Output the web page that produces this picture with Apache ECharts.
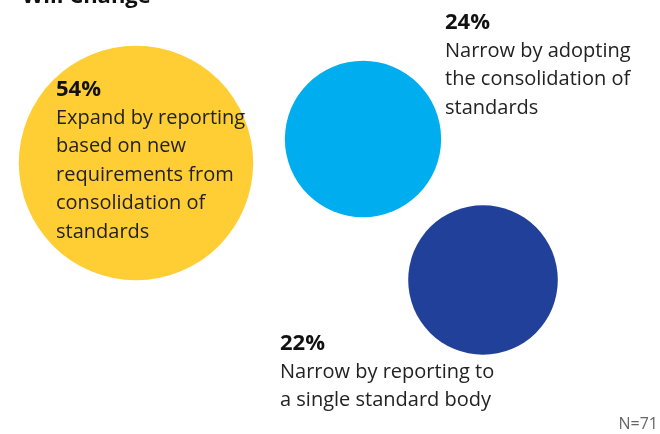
<!DOCTYPE html>
<html><head><meta charset="utf-8">
<script src="https://cdn.jsdelivr.net/npm/echarts@6/dist/echarts.min.js"></script>
<style>html,body{margin:0;padding:0;background:#fff}#c{width:660px;height:434px}</style>
</head><body><div id="c"></div>
<script>
// ---- data ----
var categories = [
  'Expand by reporting\nbased on new\nrequirements from\nconsolidation of\nstandards',
  'Narrow by adopting\nthe consolidation of\nstandards',
  'Narrow by reporting to\na single standard body'
];
var shares = [54, 24, 22];
var sampleNote = 'N=71';
var titleText = 'Will Change';

// ---- layout (pixel-like units on hidden axes) ----
var bubbleX = [136, 363, 483];
var bubbleY = [163, 139, 280];
var labelAnchor = [[56, 75], [445, 8], [280, 329]];
var colors = ['#FFCE34', '#00AEEF', '#21409A'];
var K = 31.9;
var FONT = '"Open Sans", "Noto Sans", sans-serif';

var chart = echarts.init(document.getElementById('c'), null, {renderer: 'canvas'});
var data = shares.map(function (v, i) {
  var d = Math.sqrt(v) * K;
  var r = d / 2;
  return {
    value: [bubbleX[i], bubbleY[i], v],
    name: categories[i],
    symbolSize: d,
    itemStyle: {color: colors[i], opacity: 1},
    label: {
      show: true,
      position: [labelAnchor[i][0] - (bubbleX[i] - r), labelAnchor[i][1] - (bubbleY[i] - r)],
      align: 'left',
      verticalAlign: 'top',
      formatter: '{p|' + v + '%}\n{t|' + categories[i].split('\n').join('}\n{t|') + '}',
      rich: {
        p: {fontFamily: FONT, fontWeight: 'bold', fontSize: 22, lineHeight: 29, color: '#111'},
        t: {fontFamily: FONT, fontSize: 20, lineHeight: 28.5, color: '#222'}
      }
    }
  };
});

chart.setOption({
  animation: false,
  backgroundColor: '#fff',
  grid: {left: 0, top: 0, width: 660, height: 434},
  xAxis: {type: 'value', min: 0, max: 660, show: false},
  yAxis: {type: 'value', min: 0, max: 434, inverse: true, show: false},
  graphic: [
    {type: 'text', left: 22, top: -14, style: {text: titleText, font: 'bold 22px ' + FONT, fill: '#111'}},
    {type: 'text', right: 2, bottom: 2, style: {text: sampleNote, font: '16px ' + FONT, fill: '#666'}}
  ],
  series: [{
    type: 'scatter',
    data: data,
    symbol: 'circle',
    emphasis: {disabled: true},
    z: 2
  }]
});
</script></body></html>
